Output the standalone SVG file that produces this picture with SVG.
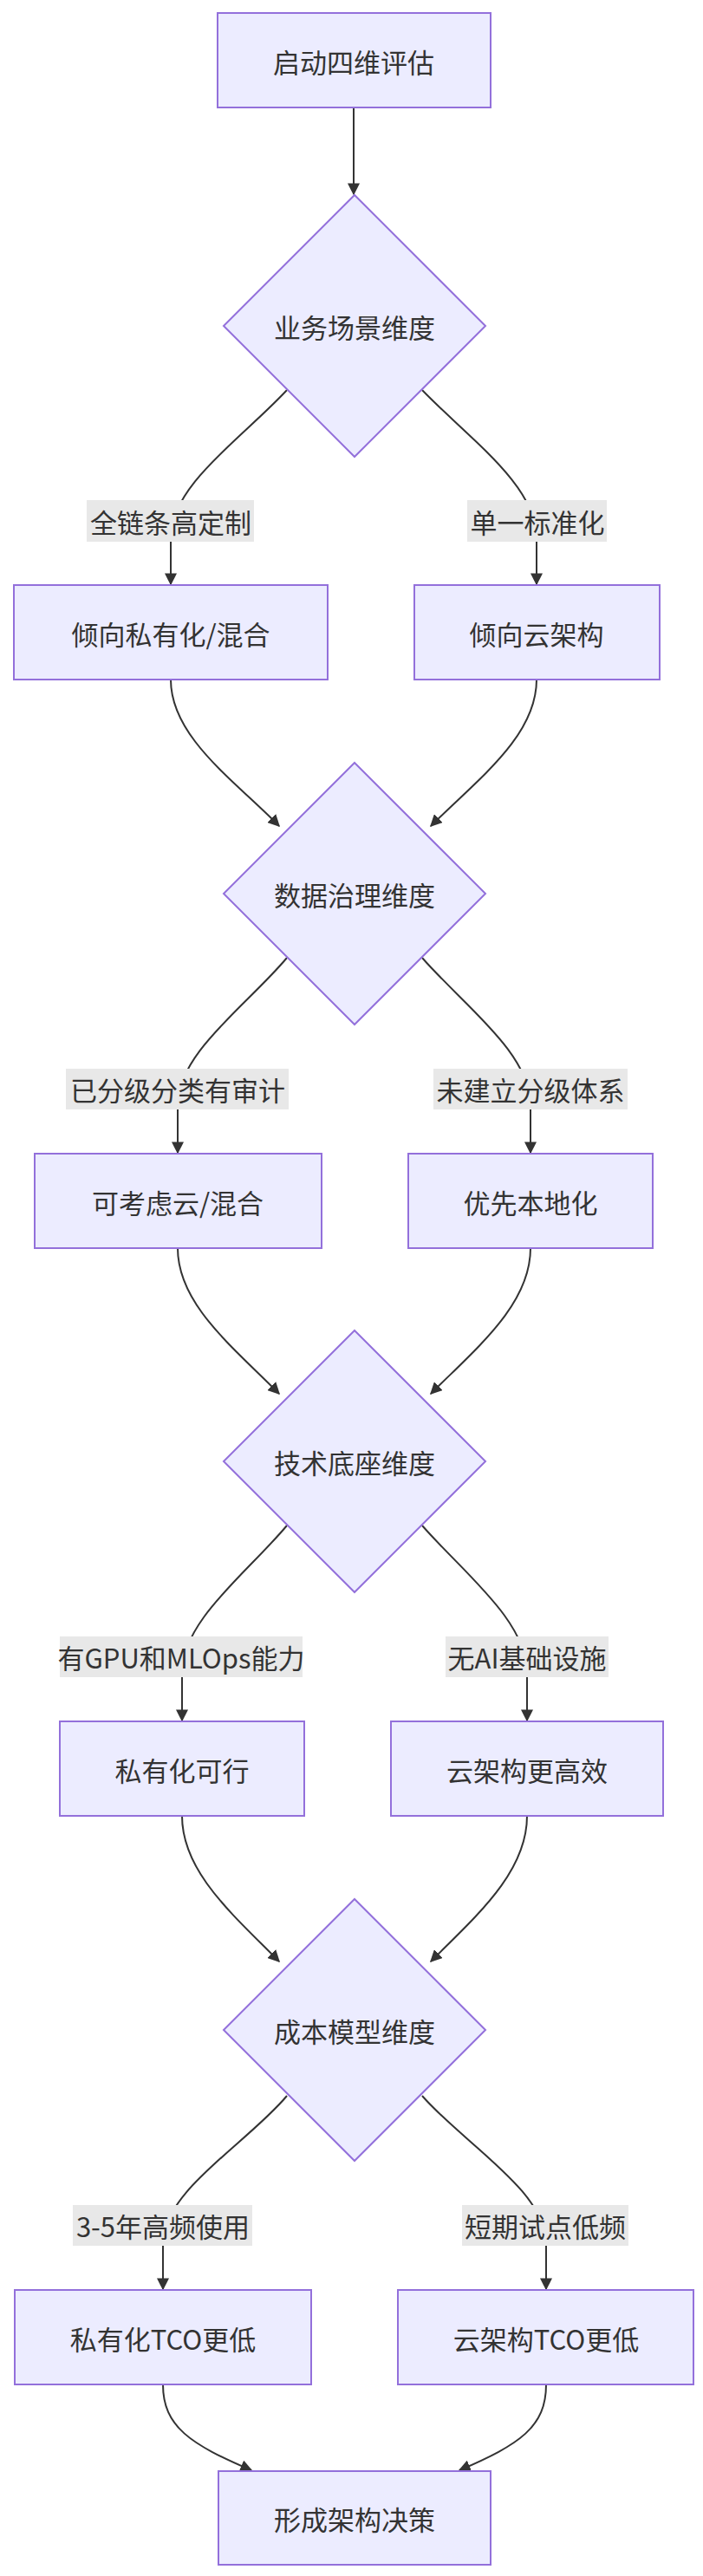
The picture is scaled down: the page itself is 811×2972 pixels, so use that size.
<svg xmlns="http://www.w3.org/2000/svg" width="811" height="2972" viewBox="0 0 811 2972">
<style>
.n{fill:#ECECFF;stroke:#9370DB;stroke-width:2}
.t{font-family:"Noto Sans CJK SC","Noto Sans",sans-serif;font-size:31px;fill:#333;text-anchor:middle;dominant-baseline:central}
.lb{fill:#e8e8e8}
.e{fill:none;stroke:#333;stroke-width:2;marker-end:url(#a)}
</style>
<defs><marker id="a" viewBox="0 0 10 10" refX="9" refY="5" markerWidth="7" markerHeight="7" orient="auto" markerUnits="strokeWidth"><path d="M0,0L10,5L0,10z" fill="#333"/></marker></defs>
<rect width="811" height="2972" fill="#fff"/>
<g id="edges">
<path class="e" d="M408,124L408,224"/>
<path class="e" d="M331,450C280,505 197,560 197,620L197,674"/>
<path class="e" d="M487,450C540,505 619,560 619,620L619,674"/>
<path class="e" d="M197,784C197,850 270,900 322,953"/>
<path class="e" d="M619,784C619,850 550,900 497,953"/>
<path class="e" d="M331,1105C285,1160 205,1215 205,1275L205,1330"/>
<path class="e" d="M487,1105C535,1160 612,1215 612,1275L612,1330"/>
<path class="e" d="M205,1440C205,1505 270,1555 322,1608"/>
<path class="e" d="M612,1440C612,1505 550,1555 497,1608"/>
<path class="e" d="M331,1760C285,1815 210,1870 210,1930L210,1985"/>
<path class="e" d="M487,1760C535,1815 608,1870 608,1930L608,1985"/>
<path class="e" d="M210,2095C210,2160 270,2210 322,2263"/>
<path class="e" d="M608,2095C608,2160 550,2210 497,2263"/>
<path class="e" d="M331,2418C285,2473 188,2528 188,2588L188,2641"/>
<path class="e" d="M487,2418C535,2473 630,2528 630,2588L630,2641"/>
<path class="e" d="M188,2751C188,2800 220,2820 290,2850"/>
<path class="e" d="M630,2751C630,2800 600,2820 530,2850"/>
</g>
<g id="labels">
<rect class="lb" x="100" y="577" width="193" height="48"/><text class="t" x="197" y="601">全链条高定制</text>
<rect class="lb" x="539" y="577" width="161" height="48"/><text class="t" x="620" y="601">单一标准化</text>
<rect class="lb" x="76" y="1233" width="257" height="47"/><text class="t" x="205" y="1256">已分级分类有审计</text>
<rect class="lb" x="500" y="1233" width="224" height="47"/><text class="t" x="612" y="1256">未建立分级体系</text>
<rect class="lb" x="69" y="1888" width="280" height="47"/><text class="t" x="209" y="1911">有GPU和MLOps能力</text>
<rect class="lb" x="514" y="1888" width="188" height="47"/><text class="t" x="608" y="1911">无AI基础设施</text>
<rect class="lb" x="84" y="2544" width="207" height="47"/><text class="t" x="188" y="2567">3-5年高频使用</text>
<rect class="lb" x="533" y="2544" width="192" height="47"/><text class="t" x="629" y="2567">短期试点低频</text>
</g>
<g id="start"><rect class="n" x="251" y="15" width="315" height="109"/><text class="t" x="408" y="70">启动四维评估</text></g>
<g id="d1"><polygon class="n" points="409,225 560,376 409,527 258,376"/><text class="t" x="409" y="376">业务场景维度</text></g>
<g id="b1l"><rect class="n" x="16" y="675" width="362" height="109"/><text class="t" x="197" y="730">倾向私有化/混合</text></g>
<g id="b1r"><rect class="n" x="478" y="675" width="283" height="109"/><text class="t" x="619" y="730">倾向云架构</text></g>
<g id="d2"><polygon class="n" points="409,880 560,1031 409,1182 258,1031"/><text class="t" x="409" y="1031">数据治理维度</text></g>
<g id="b2l"><rect class="n" x="40" y="1331" width="331" height="109"/><text class="t" x="205" y="1386">可考虑云/混合</text></g>
<g id="b2r"><rect class="n" x="471" y="1331" width="282" height="109"/><text class="t" x="612" y="1386">优先本地化</text></g>
<g id="d3"><polygon class="n" points="409,1535 560,1686 409,1837 258,1686"/><text class="t" x="409" y="1686">技术底座维度</text></g>
<g id="b3l"><rect class="n" x="69" y="1986" width="282" height="109"/><text class="t" x="210" y="2041">私有化可行</text></g>
<g id="b3r"><rect class="n" x="451" y="1986" width="314" height="109"/><text class="t" x="608" y="2041">云架构更高效</text></g>
<g id="d4"><polygon class="n" points="409,2191 560,2342 409,2493 258,2342"/><text class="t" x="409" y="2342">成本模型维度</text></g>
<g id="b4l"><rect class="n" x="17" y="2642" width="342" height="109"/><text class="t" x="188" y="2697">私有化TCO更低</text></g>
<g id="b4r"><rect class="n" x="459" y="2642" width="341" height="109"/><text class="t" x="630" y="2697">云架构TCO更低</text></g>
<g id="end"><rect class="n" x="252" y="2851" width="314" height="108"/><text class="t" x="409" y="2905">形成架构决策</text></g>
</svg>
